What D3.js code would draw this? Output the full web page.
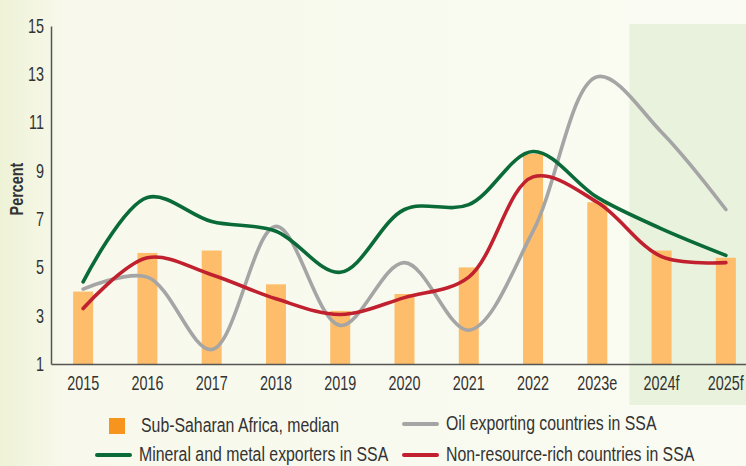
<!DOCTYPE html>
<html>
<head>
<meta charset="utf-8">
<script src="https://cdn.jsdelivr.net/npm/d3@7"></script>
<style>
  body { margin: 0; background: #f9faf0; }
  svg { display: block; }
  text { font-family: "Liberation Sans", Arial, sans-serif; fill: #333; }
</style>
</head>
<body>
<div id="chart"></div>
<script>
/* DATA */
const years = ["2015", "2016", "2017", "2018", "2019", "2020", "2021", "2022", "2023e", "2024f", "2025f"];
const medianSSA = [4.0, 5.6, 5.7, 4.3, 3.2, 3.9, 5.0, 9.7, 7.7, 5.7, 5.4];
const oilExporters = [4.1, 4.6, 1.6, 6.7, 2.6, 5.2, 2.4, 6.5, 12.9, 10.6, 7.4];
const mineralExporters = [4.4, 7.9, 6.9, 6.5, 4.8, 7.4, 7.6, 9.8, 7.9, 6.6, 5.5];
const nonResourceRich = [3.3, 5.4, 4.7, 3.7, 3.05, 3.75, 4.6, 8.75, 7.7, 5.45, 5.2];
const yTicks = [1, 3, 5, 7, 9, 11, 13, 15];
const forecastYears = ["2024f", "2025f"];

const W = 746, H = 466;
const margin = {top: 26, right: -12, bottom: 102, left: 51};

const svg = d3.select("#chart").append("svg")
  .attr("width", W)
  .attr("height", H);

// squeeze text horizontally (the original uses a condensed face), keeping its anchor in place
function condense(sel, k) {
  sel.each(function() {
    const t = d3.select(this);
    const x0 = +t.attr("x") || 0;
    t.attr("transform", `translate(${x0 * (1 - k)},0) scale(${k},1)`);
  });
}

// background with yellowish left edge
const defs = svg.append("defs");
const grad = defs.append("linearGradient").attr("id", "bg").attr("x1", 0).attr("x2", 1);
grad.append("stop").attr("offset", "0%").attr("stop-color", "#eef2d6");
grad.append("stop").attr("offset", "9%").attr("stop-color", "#f8f9ec");
grad.append("stop").attr("offset", "100%").attr("stop-color", "#fafbf2");
svg.append("rect").attr("width", W).attr("height", H).attr("fill", "url(#bg)");

// scales
const x = d3.scaleBand()
  .domain(years)
  .range([margin.left, W - margin.right])
  .paddingInner(0);

const y = d3.scaleLinear()
  .domain([1, 15])
  .range([H - margin.bottom, margin.top]);

// forecast shading
svg.append("rect")
  .attr("x", x(forecastYears[0]))
  .attr("y", margin.top - 2)
  .attr("width", W - x(forecastYears[0]))
  .attr("height", 405 - margin.top + 2)
  .attr("fill", "#e9f2dc");

// bars
const barW = 20;
svg.append("g")
  .selectAll("rect")
  .data(years)
  .join("rect")
  .attr("x", d => x(d) + x.bandwidth() / 2 - barW / 2)
  .attr("y", (d, i) => y(medianSSA[i]))
  .attr("width", barW)
  .attr("height", (d, i) => y(1) - y(medianSSA[i]))
  .attr("fill", "#fdbd6a");

// lines
const line = d3.line()
  .x((d, i) => x(years[i]) + x.bandwidth() / 2)
  .y(d => y(d))
  .curve(d3.curveCatmullRom.alpha(0.5));

const series = [
  {values: oilExporters, color: "#a5a5a5"},
  {values: mineralExporters, color: "#0b6b38"},
  {values: nonResourceRich, color: "#c1202f"}
];

svg.append("g")
  .selectAll("path")
  .data(series)
  .join("path")
  .attr("d", d => line(d.values))
  .attr("fill", "none")
  .attr("stroke", d => d.color)
  .attr("stroke-width", 3.6)
  .attr("stroke-linecap", "round");

// axes
const yAxis = svg.append("g")
  .attr("transform", `translate(${margin.left},0)`)
  .call(d3.axisLeft(y).tickValues(yTicks).tickSize(0).tickPadding(7));
yAxis.select(".domain").attr("stroke", "#555").attr("stroke-width", 1.5);
yAxis.attr("font-family", null).attr("font-size", null);
yAxis.selectAll("text").attr("font-size", 20).call(condense, 0.72);

const xAxis = svg.append("g")
  .attr("transform", `translate(0,${y(1)})`)
  .call(d3.axisBottom(x).tickSize(0).tickPadding(12));
xAxis.select(".domain").attr("stroke", "#555").attr("stroke-width", 1.5);
xAxis.attr("font-family", null).attr("font-size", null);
xAxis.selectAll("text").attr("font-size", 20).call(condense, 0.72);

svg.selectAll(".tick text").attr("fill", "#333");

// y title
svg.append("text")
  .attr("transform", `translate(23,${(y(1) + y(15)) / 2 - 6}) rotate(-90) scale(0.8,1)`)
  .attr("text-anchor", "middle")
  .attr("font-size", 18)
  .attr("font-weight", "bold")
  .text("Percent");

// legend
const legendItems = [
  {label: "Sub-Saharan Africa, median", type: "box", color: "#f7941e", x: 109, y: 426},
  {label: "Oil exporting countries in SSA", type: "line", color: "#a5a5a5", x: 404, y: 424},
  {label: "Mineral and metal exporters in SSA", type: "line", color: "#0b6b38", x: 97, y: 455},
  {label: "Non-resource-rich countries in SSA", type: "line", color: "#c1202f", x: 404, y: 455}
];

const legend = svg.append("g");
legendItems.forEach(d => {
  if (d.type === "box") {
    legend.append("rect")
      .attr("x", d.x).attr("y", d.y - 8)
      .attr("width", 16).attr("height", 16)
      .attr("fill", d.color);
  } else {
    legend.append("line")
      .attr("x1", d.x).attr("x2", d.x + 33)
      .attr("y1", d.y).attr("y2", d.y)
      .attr("stroke", d.color)
      .attr("stroke-width", 4)
      .attr("stroke-linecap", "round");
  }
  legend.append("text")
    .attr("x", d.type === "box" ? 141 : d.x + 42)
    .attr("y", d.y + 6)
    .attr("font-size", 21)
    .text(d.label)
    .call(condense, 0.755);
});
</script>
</body>
</html>
